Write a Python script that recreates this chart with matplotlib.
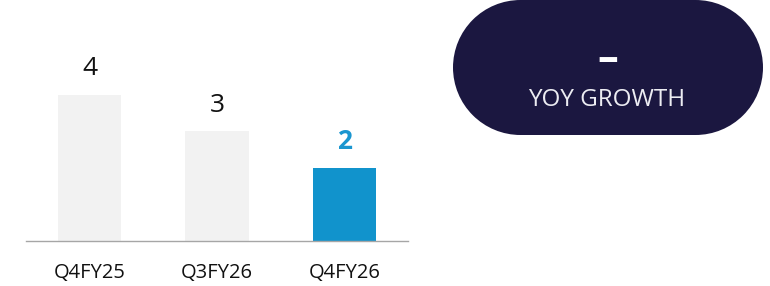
import matplotlib
matplotlib.use("Agg")
import matplotlib.pyplot as plt
from matplotlib.patches import Rectangle, Circle

plt.rcParams['font.family'] = ['Open Sans', 'DejaVu Sans']

categories = ["Q4FY25", "Q3FY26", "Q4FY26"]
values = [4, 3, 2]
bar_colors = ["#f2f2f2", "#f2f2f2", "#1193cc"]
label_colors = ["#111111", "#111111", "#1a96d0"]
label_weights = ["normal", "normal", "bold"]
badge_value = "–"
badge_label = "YOY GROWTH"

W, H = 770, 286
fig = plt.figure(figsize=(W / 100, H / 100), dpi=100)

# bar axes (pixel placement)
left, right, base = 26, 408, 240.7
ax = fig.add_axes([left / W, (H - base) / H, (right - left) / W, base / H])
x = range(len(categories))
ax.bar(x, values, width=0.5, color=bar_colors, zorder=2)
ax.set_xlim(-0.5, 2.5)
ax.set_ylim(0, base / 36.5)
for s in ["top", "right", "left"]:
    ax.spines[s].set_visible(False)
ax.spines["bottom"].set_color("#a6a6a6")
ax.spines["bottom"].set_linewidth(1.0)
ax.set_yticks([])
ax.set_xticks(list(x))
ax.set_xticklabels(categories, fontsize=14.5, color="#111111")
ax.tick_params(axis="x", length=0, pad=16)
for i, v in enumerate(values):
    ax.annotate(str(v), (i, v), xytext=(0, 18.7), textcoords="offset points",
                ha="center", va="center", fontsize=19, color=label_colors[i],
                fontweight=label_weights[i])

# overlay axes for badge in pixel coords
ov = fig.add_axes([0, 0, 1, 1])
ov.set_xlim(0, W)
ov.set_ylim(H, 0)
ov.axis("off")
pc = "#1b1740"
x0, x1, y0, y1 = 453, 763, 0, 135
r = (y1 - y0) / 2
ov.add_patch(Rectangle((x0 + r, y0), (x1 - x0) - 2 * r, y1 - y0, facecolor=pc, edgecolor="none"))
ov.add_patch(Circle((x0 + r, y0 + r), r, facecolor=pc, edgecolor="none"))
ov.add_patch(Circle((x1 - r, y0 + r), r, facecolor=pc, edgecolor="none"))
ov.text(608, 60, badge_value, ha="center", va="center", fontsize=30,
        fontweight="bold", color="white")
ov.text(607, 100, badge_label, ha="center", va="center", fontsize=17.5,
        color="#ececf2")

fig.savefig("out.png", dpi=100)
